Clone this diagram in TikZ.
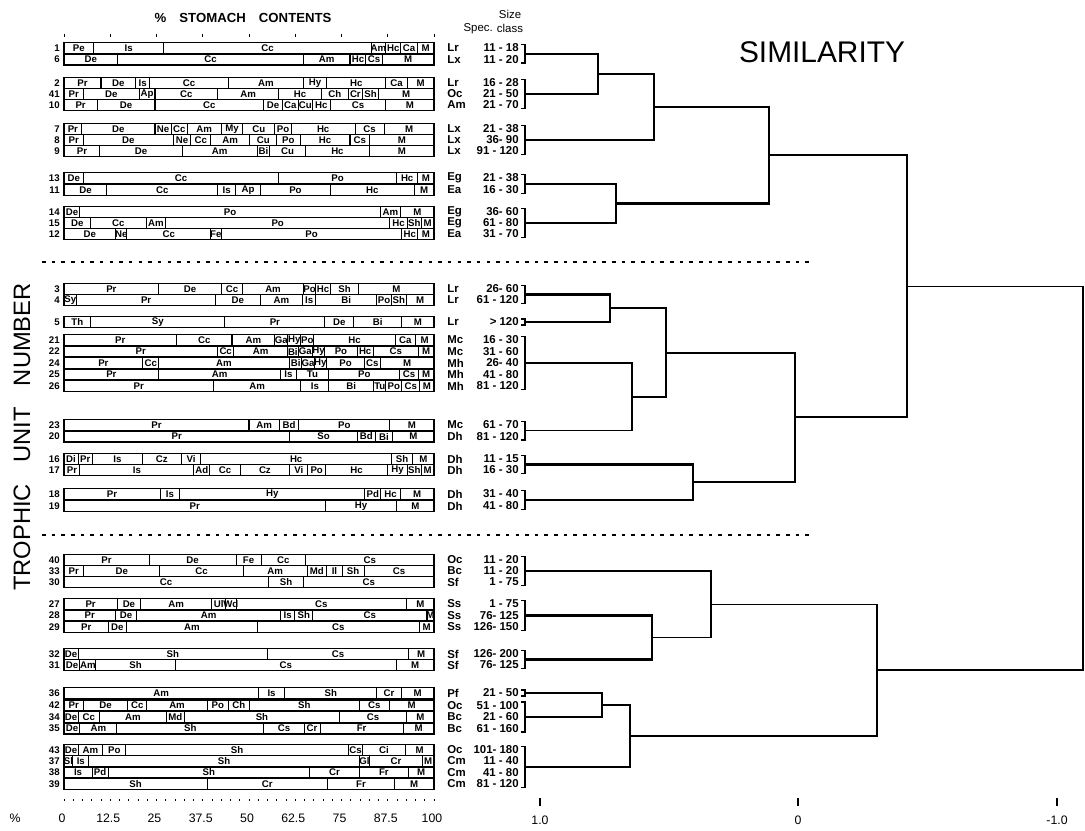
\documentclass[tikz,border=0pt]{standalone}
\usepackage{fontspec}
\setmainfont{Liberation Sans}
\usetikzlibrary{positioning}

\begin{document}
\begin{tikzpicture}[x=0.02cm,y=-0.02cm,
   lab/.style={font=\fontsize{5.5}{6}\selectfont\bfseries,inner sep=0pt},
   num/.style={font=\fontsize{5.5}{6}\selectfont\bfseries,inner sep=0pt,anchor=east},
   spec/.style={font=\fontsize{6.5}{7}\selectfont\bfseries,inner sep=0pt,anchor=west},
   sizecl/.style={font=\fontsize{6.5}{7}\selectfont\bfseries,inner sep=0pt,anchor=east},
   axl/.style={font=\fontsize{7}{8}\selectfont,inner sep=0pt},
   brk/.style={line width=0.9pt},
   tree/.style={line width=1.2pt},
   thintree/.style={line width=0.8pt},
   sep/.style={line width=0.7pt,dash pattern=on 2pt off 3.5pt}]
   \useasboundingbox (0,0) rectangle (1085,831);

   % stomach contents bars
   \foreach \y/\n/\spc/\szc/\segs in {
     48/1/Lr/11 - 18/{Pe/8,Is/27,Cc/83,Am/87,Hc/91,Ca/95.5,M/100},
     59.5/6/Lx/11 - 20/{De/14.5,Cc/64.7,Am/77.3,Hc/81.6,Cs/86,M/100},
     83/2/Lr/16 - 28/{Pr/10,De/19.3,Is/23.2,Cc/44.4,Am/64.7,Hy/71,Hc/87,Ca/92.8,M/100},
     94/41/Oc/21 - 50/{Pr/5.3,De/20.3,Ap/24.6,Cc/41.5,Am/58,Hc/69.6,Ch/76.8,Cr/80.7,Sh/85,M/100},
     105/10/Am/21 - 70/{Pr/9,De/24.6,Cc/54,De/59,Ca/63.3,Cu/67.1,Hc/72,Cs/87,M/100},
     129/7/Lx/21 - 38/{Pr/4.8,De/24.6,Ne/29,Cc/33.3,Am/42.5,My/48.3,Cu/57,Po/61.4,Hc/78.7,Cs/86.5,M/100},
     140/8/Lx/36- 90/{Pr/5.3,De/29.5,Ne/34.3,Cc/39.6,Am/50.2,Cu/57.5,Po/63.8,Hc/77.3,Cs/82.6,M/100},
     151/9/Lx/91 - 120/{Pr/9.7,De/31.9,Am/52.2,Bi/55.6,Cu/65.2,Hc/82.6,M/100},
     178/13/Eg/21 - 38/{De/5.3,Cc/58,Po/89.9,Hc/95.6,M/100},
     190/11/Ea/16 - 30/{De/11.6,Cc/41.5,Is/46.4,Ap/53.1,Po/72,Hc/94.7,M/100},
     212/14/Eg/36- 60/{De/4.3,Po/85.5,Am/91,M/100},
     223/15/Eg/61 - 80/{De/7.2,Cc/22.2,Am/27.5,Po/88,Hc/92.8,Sh/96.6,M/100},
     234/12/Ea/31 - 70/{De/14,Ne/17,Cc/39.6,Fe/42.5,Po/91.3,Hc/95.6,M/100},
     289/3/Lr/26- 60/{Pr/25.6,De/42.5,Cc/48.3,Am/64.7,Po/68,Hc/72,Sh/79.7,M/100},
     300/4/Lr/61 - 120/{Sy/3.4,Pr/41,De/53,Am/64.5,Is/68,Bi/84.5,Po/88.5,Sh/92.5,M/100},
     322/5/Lr/> 120/{Th/7.2,Sy/43.5,Pr/70.5,De/78.3,Bi/91.3,M/100},
     340/21/Mc/16 - 30/{Pr/30.4,Cc/45.4,Am/57,Ga/60.5,Hy/64,Po/67.5,Hc/89.5,Ca/95,M/100},
     351.5/22/Mc/31 - 60/{Pr/41.5,Cc/45.9,Am/60.4,Bi/63.3,Ga/67.1,Hy/70.5,Po/79.2,Hc/83.6,Cs/95.7,M/100},
     363/24/Mh/26- 40/{Pr/21.3,Cc/25.6,Am/60.9,Bi/64.3,Ga/67.6,Hy/71,Po/81.2,Cs/85.5,M/100},
     374.5/25/Mh/41 - 80/{Pr/25.6,Am/58.5,Is/62.8,Tu/71.5,Po/90.8,Cs/95.7,M/100},
     386/26/Mh/81 - 120/{Pr/40.4,Am/64,Is/71.6,Bi/83.7,Tu/87,Po/91.3,Cs/96.2,M/100},
     425/23/Mc/61 - 70/{Pr/50,Am/58.2,Bd/63.5,Po/88,M/100},
     436.5/20/Dh/81 - 120/{Pr/61,So/79.3,Bd/84.1,Bi/88.9,M/100},
     459/16/Dh/11 - 15/{Di/3.8,Pr/7.7,Is/21.2,Cz/31.7,Vi/37,Hc/88.5,Sh/94.2,M/100},
     470/17/Dh/16 - 30/{Pr/4.3,Is/35.1,Ad/39.4,Cc/47.6,Cz/61,Vi/65.9,Po/70.7,Hc/87.5,Hy/92.8,Sh/96.6,M/100},
     494/18/Dh/31 - 40/{Pr/26,Is/31.3,Hy/81.3,Pd/85.6,Hc/90.9,M/100},
     506/19/Dh/41 - 80/{Pr/70.7,Hy/89.9,M/100},
     560/40/Oc/11 - 20/{Pr/23,De/46.5,Fe/53.3,Cc/65.3,Cs/100},
     571/33/Bc/11 - 20/{Pr/5.3,De/25.9,Cc/48.5,Am/65.7,Md/71,Il/75.2,Sh/81.1,Cs/100},
     582/30/Sf/1 - 75/{Cc/55.2,Sh/64.8,Cs/100},
     604/27/Ss/1 - 75/{Pr/14.4,De/20.7,Am/39.9,Ul/43.7,Wd/46.5,Cs/92.6,M/100},
     615.5/28/Ss/76- 125/{Pr/13.9,De/19.7,Am/58.5,Is/62.4,Sh/67.2,Cs/98.1,M/100},
     627/29/Ss/126- 150/{Pr/12,De/16.8,Am/52.3,Cs/96,M/100},
     654/32/Sf/126- 200/{De/3.8,Sh/55,Cs/93.1,M/100},
     665/31/Sf/76- 125/{De/4.3,Am/8.6,Sh/30.1,Cs/89.8,M/100},
     693/36/Pf/21 - 50/{Am/52.5,Is/59.7,Sh/84.5,Cr/91.2,M/100},
     705.5/42/Oc/51 - 100/{Pr/5.3,De/17.2,Cc/22.4,Am/38.7,Po/44.4,Ch/50.1,Sh/79.8,Cs/87.9,M/100},
     717/34/Bc/21 - 60/{De/3.8,Cc/9.6,Am/27.7,Md/32.5,Sh/74.5,Cs/92.6,M/100},
     728.5/35/Bc/61 - 160/{De/4.3,Am/14.3,Sh/54,Cs/64.9,Cr/69.2,Fr/91.7,M/100},
     750/43/Oc/101- 180/{De/3.8,Am/10.5,Po/16.7,Sh/76.9,Cs/80.7,Ci/92.2,M/100},
     761/37/Cm/11 - 40/{Sl/2.4,Is/6.7,Sh/79.8,Gl/82.6,Cr/96.9,M/100},
     772.5/38/Cm/41 - 80/{Is/7.6,Pd/11.9,Sh/66.4,Cr/79.8,Fr/93.1,M/100},
     784/39/Cm/81 - 120/{Sh/38.7,Cr/71.2,Fr/89.3,M/100}}{
   \draw[line width=0.6pt] (64,\y-5.5) rectangle (434,\y+5.5);
   \node[num] (n\n) at (60,\y) {\n};
   \node[spec] (s\n) at (447,\y) {\spc};
   \node[sizecl] (c\n) at (519,\y) {\szc};
   \foreach \lab/\e [remember=\e as \s (initially 0)] in \segs {
     \draw[line width=0.6pt] ({64+3.7*\e},\y-5.5) -- ({64+3.7*\e},\y+5.5);
     \node[lab] at ({64+1.85*(\s+\e)},\y) {\lab};
   }
   }

   \node[font=\fontsize{7.5}{9}\selectfont\bfseries] (title) at (243,18)
     {\%\hspace{1em}STOMACH\hspace{1em}CONTENTS};
   \node[font=\fontsize{6.5}{7}\selectfont,inner sep=0pt] (size) at (510,14) {Size};
   \node[font=\fontsize{6.5}{7}\selectfont,inner sep=0pt,below=3pt of size] (class) {class};
   \node[font=\fontsize{6.5}{7}\selectfont,inner sep=0pt,left=2pt of class] (spec) {Spec.};
   \node[font=\fontsize{17}{19}\selectfont] (simil) at (822,52) {SIMILARITY};
   \node[font=\fontsize{13.5}{15}\selectfont,rotate=90] (tun) at (22,437)
     {TROPHIC\hspace{0.9em}UNIT\hspace{0.9em}NUMBER};

   \foreach \k in {0,...,8}
     \draw[line width=0.5pt] ({64+46.25*\k},34) -- ++(0,3);

   % dividing lines
   \draw[sep] (42,262) -- (810,262);
   \draw[sep] (42,535) -- (810,535);

   % bottom axes
   \foreach \k in {0,...,40}
     \draw[line width=0.5pt] ({64+9.25*\k},799) -- ++(0,2);
   \node[axl] (pct) at (15,818) {\%};
   \foreach \v in {0,12.5,25,37.5,50,62.5,75,87.5,100}
     \node[axl] at ({62+3.7*\v},818) {\v};
   \foreach \x/\v in {540/1.0,798/0,1057/-1.0}{
     \draw[line width=0.6pt] (\x,798) -- (\x,806);
     \node[axl] at (\x,820) {\v};
   }

   % brackets of the trophic units
   \foreach \g/\t/\b in {A/44.5/63,B/79.5/108.5,C/125.5/154.5,D/174.5/193.5,
       E/208.5/237.5,F/285.5/303.5,G/319/325,H/336.5/389.5,I/421.5/440,
       J/455.5/473.5,K/490.5/509.5,L/556.5/585.5,M/600.5/630.5,N/650.5/668.5,
       O/690/696,P/702/732,Q/746.5/787.5}{
     \draw[brk] (521,\t) -- (525,\t) -- (525,\b) -- (521,\b);
     \coordinate (g\g) at (525,{(\t+\b)/2});
   }

   % dendrogram
   \coordinate (jAB) at (598,73.9);
   \coordinate (jABC) at (654,107);
   \coordinate (jDE) at (616,203.5);
   \coordinate (jUp) at (769,155.2);
   \coordinate (jFG) at (610,308.3);
   \coordinate (jHI) at (632,396.9);
   \coordinate (jFI) at (666,352.6);
   \coordinate (jJK) at (693,482.3);
   \coordinate (jMid) at (795,417.4);
   \coordinate (jTop) at (907,286.3);
   \coordinate (jMN) at (652,637.5);
   \coordinate (jLN) at (711,604.3);
   \coordinate (jOP) at (602,705);
   \coordinate (jOQ) at (630,736);
   \coordinate (jLow) at (877,670.1);
   \coordinate (root) at (1083,478);

   \draw[tree] (gA) -| (jAB) |- (gB);
   \draw[tree] (jAB) -| (jABC) |- (gC);
   \draw[tree] (gD) -| (jDE) |- (gE);
   \draw[tree] (jABC) -| (jUp) |- (jDE);
   \draw[tree] (gF) -| (jFG) |- (gG);
   \draw[thintree] (gH) -| (jHI) |- (gI);
   \draw[tree] (jFG) -| (jFI) |- (jHI);
   \draw[tree] (gJ) -| (jJK) |- (gK);
   \draw[tree] (jFI) -| (jMid) |- (jJK);
   \draw[tree] (jUp) -| (jTop) |- (jMid);
   \draw[tree] (gM) -| (jMN) |- (gN);
   \draw[thintree] (gL) -| (jLN) |- (jMN);
   \draw[tree] (gO) -| (jOP) |- (gP);
   \draw[thintree] (jOP) -| (jOQ) |- (gQ);
   \draw[thintree] (jLN) -| (jLow) |- (jOQ);
   \draw[thintree] (jTop) -| (root) |- (jLow);
\end{tikzpicture}
\end{document}
